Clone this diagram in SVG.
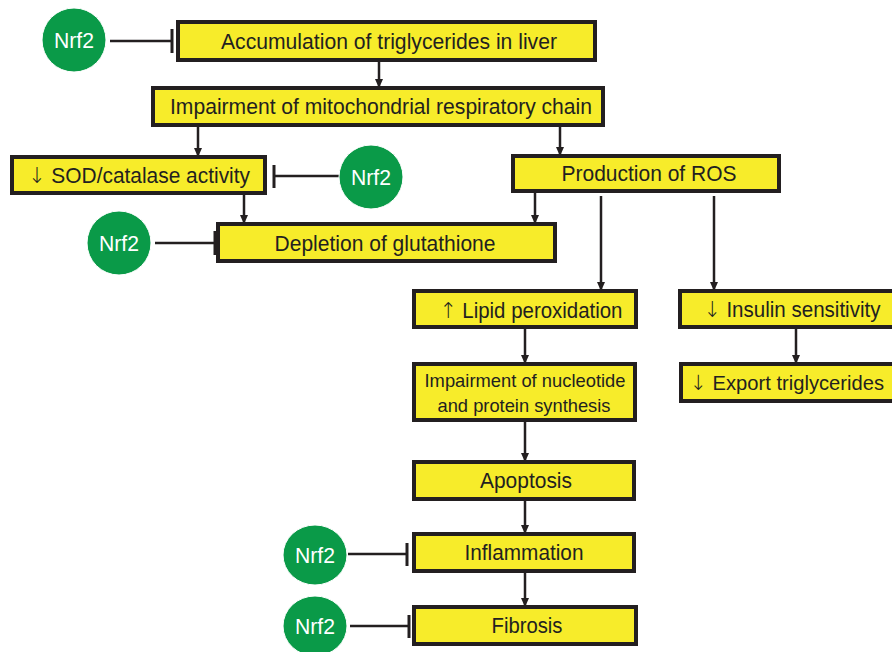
<svg xmlns="http://www.w3.org/2000/svg" width="892" height="652" viewBox="0 0 892 652">
<defs>
<marker id="arr" viewBox="0 0 10 10" refX="9" refY="5" markerWidth="9" markerHeight="10" orient="auto" markerUnits="userSpaceOnUse">
<path d="M0,0.5 L10,5 L0,9.5 z" fill="#231f20"/>
</marker>
<style>
.box{fill:#f7ec2a;stroke:#231f20;stroke-width:4}
.t{font-family:"Liberation Sans",Arial,sans-serif;font-size:22px;fill:#231f20;text-anchor:middle}
.a{font-family:"DejaVu Sans",sans-serif;font-weight:200;fill:#231f20}
.n{fill:#0a9a48;stroke:#fff;stroke-width:1}
.nt{font-family:"Liberation Sans",Arial,sans-serif;font-size:22px;fill:#fff;text-anchor:middle}
.c{stroke:#231f20;stroke-width:2.5;fill:none}
.bar{stroke:#231f20;stroke-width:3;fill:none}
</style>
</defs>
<rect width="892" height="652" fill="#fff"/>
<g id="connectors">
<path class="c" d="M379,60 V87" marker-end="url(#arr)"/>
<path class="c" d="M198,125 V156" marker-end="url(#arr)"/>
<path class="c" d="M560,125 V155" marker-end="url(#arr)"/>
<path class="c" d="M244,194 V223" marker-end="url(#arr)"/>
<path class="c" d="M535,193 V223" marker-end="url(#arr)"/>
<path class="c" d="M601,196 V290" marker-end="url(#arr)"/>
<path class="c" d="M714,196 V290" marker-end="url(#arr)"/>
<path class="c" d="M525,328 V363" marker-end="url(#arr)"/>
<path class="c" d="M796,328 V363" marker-end="url(#arr)"/>
<path class="c" d="M525,421 V461" marker-end="url(#arr)"/>
<path class="c" d="M525,500 V533" marker-end="url(#arr)"/>
<path class="c" d="M525,572 V606" marker-end="url(#arr)"/>
<path class="c" d="M110,41 H172"/><path class="bar" d="M172,29 V53"/>
<path class="c" d="M340,176 H274"/><path class="bar" d="M274,165 V188"/>
<path class="c" d="M155,243 H215"/><path class="bar" d="M215,231 V255"/>
<path class="c" d="M348,554 H407"/><path class="bar" d="M407,543 V566"/>
<path class="c" d="M350,626 H409"/><path class="bar" d="M409,615 V638"/>
</g>
<g id="n1"><rect class="box" x="178" y="22" width="417" height="38"/><text class="t" x="389" y="49" textLength="336" lengthAdjust="spacingAndGlyphs">Accumulation of triglycerides in liver</text></g>
<g id="n2"><rect class="box" x="153" y="88" width="450" height="37"/><text class="t" x="381" y="114" textLength="422" lengthAdjust="spacingAndGlyphs">Impairment of mitochondrial respiratory chain</text></g>
<g id="n3"><rect class="box" x="12" y="157" width="253" height="36"/><text class="t" x="139" y="183" textLength="222" lengthAdjust="spacingAndGlyphs"><tspan class="a">↓</tspan> SOD/catalase activity</text></g>
<g id="n4"><rect class="box" x="513" y="156" width="266" height="35"/><text class="t" x="649" y="181" textLength="175" lengthAdjust="spacingAndGlyphs">Production of ROS</text></g>
<g id="n5"><rect class="box" x="218" y="224" width="337" height="37"/><text class="t" x="385" y="251" textLength="221" lengthAdjust="spacingAndGlyphs">Depletion of glutathione</text></g>
<g id="n6"><rect class="box" x="414" y="291" width="222" height="36"/><text class="t" x="531" y="318" textLength="183" lengthAdjust="spacingAndGlyphs"><tspan class="a">↑</tspan> Lipid peroxidation</text></g>
<g id="n7"><rect class="box" x="680" y="291" width="220" height="36"/><text class="t" x="792" y="317" textLength="177" lengthAdjust="spacingAndGlyphs"><tspan class="a">↓</tspan> Insulin sensitivity</text></g>
<g id="n8"><rect class="box" x="414" y="364" width="221" height="56"/><text class="t" style="font-size:19px" x="525" y="387" textLength="201" lengthAdjust="spacingAndGlyphs">Impairment of nucleotide</text><text class="t" style="font-size:19px" x="524" y="412" textLength="173" lengthAdjust="spacingAndGlyphs">and protein synthesis</text></g>
<g id="n9"><rect class="box" x="681" y="364" width="220" height="37"/><text class="t" style="font-size:21px" x="787" y="390" textLength="194" lengthAdjust="spacingAndGlyphs"><tspan class="a">↓</tspan> Export triglycerides</text></g>
<g id="n10"><rect class="box" x="414" y="462" width="220" height="37"/><text class="t" x="526" y="488" textLength="92" lengthAdjust="spacingAndGlyphs">Apoptosis</text></g>
<g id="n11"><rect class="box" x="414" y="534" width="220" height="37"/><text class="t" x="524" y="560" textLength="119" lengthAdjust="spacingAndGlyphs">Inflammation</text></g>
<g id="n12"><rect class="box" x="414" y="607" width="222" height="37"/><text class="t" x="527" y="633" textLength="71" lengthAdjust="spacingAndGlyphs">Fibrosis</text></g>
<g id="nrf1"><ellipse class="n" cx="74" cy="40" rx="32" ry="32"/><text class="nt" x="74" y="48" textLength="40" lengthAdjust="spacingAndGlyphs">Nrf2</text></g>
<g id="nrf2"><ellipse class="n" cx="371" cy="177" rx="32" ry="32"/><text class="nt" x="371" y="185" textLength="40" lengthAdjust="spacingAndGlyphs">Nrf2</text></g>
<g id="nrf3"><ellipse class="n" cx="119" cy="243" rx="32" ry="32"/><text class="nt" x="119" y="251" textLength="40" lengthAdjust="spacingAndGlyphs">Nrf2</text></g>
<g id="nrf4"><ellipse class="n" cx="315" cy="555" rx="32" ry="30"/><text class="nt" x="315" y="563" textLength="40" lengthAdjust="spacingAndGlyphs">Nrf2</text></g>
<g id="nrf5"><ellipse class="n" cx="315" cy="626" rx="32" ry="30"/><text class="nt" x="315" y="634" textLength="40" lengthAdjust="spacingAndGlyphs">Nrf2</text></g>
</svg>
